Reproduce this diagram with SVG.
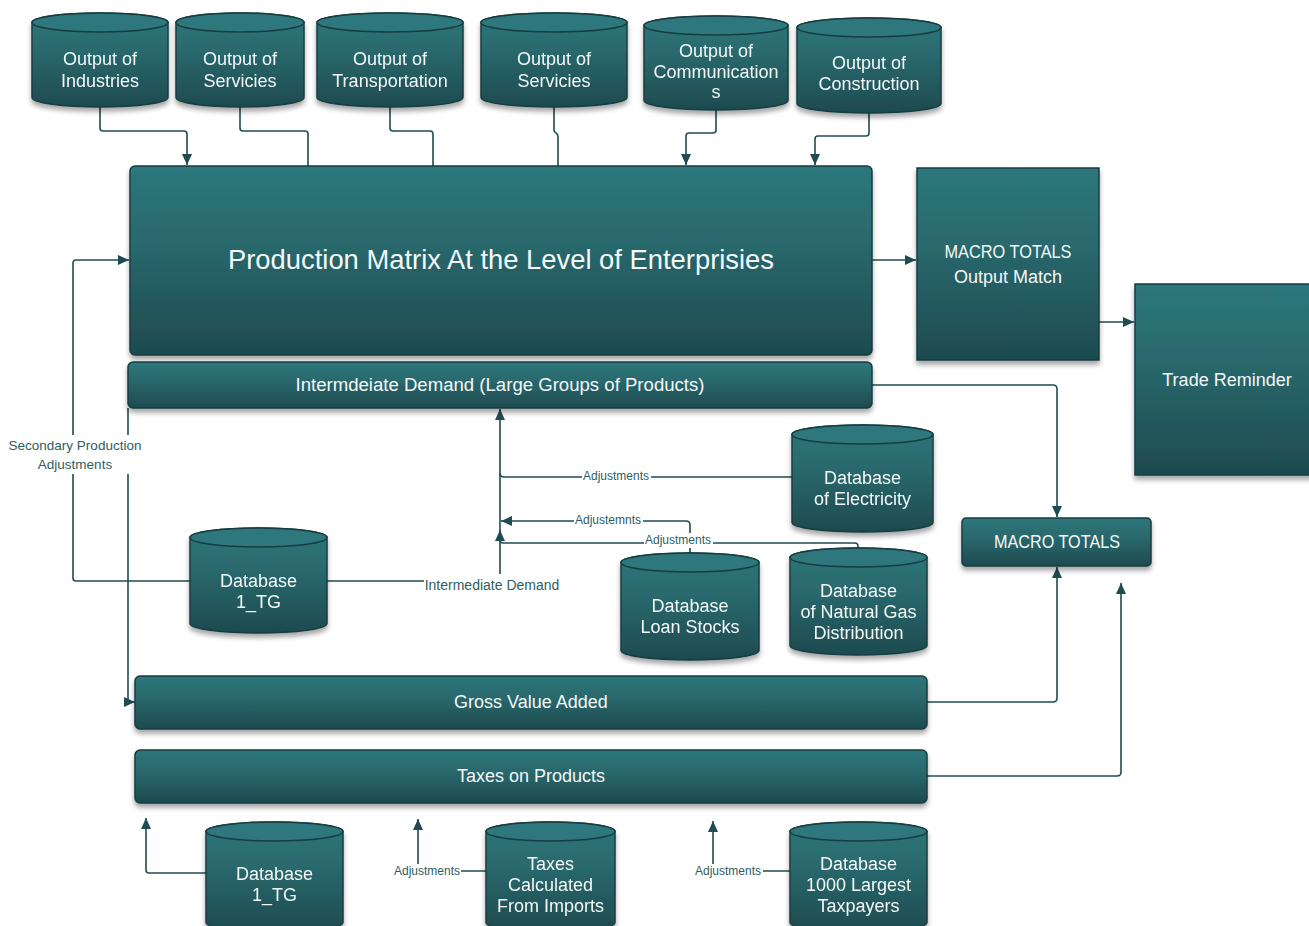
<svg xmlns="http://www.w3.org/2000/svg" width="1309" height="926" viewBox="0 0 1309 926">
  <defs>
    <linearGradient id="teal" x1="0" y1="0" x2="0" y2="1">
      <stop offset="0" stop-color="#2D777B"/>
      <stop offset="0.4" stop-color="#29696D"/>
      <stop offset="1" stop-color="#1E4A4F"/>
    </linearGradient>
    <filter id="shadow" x="-10%" y="-10%" width="120%" height="130%">
      <feDropShadow dx="0" dy="4" stdDeviation="2.5" flood-color="#000" flood-opacity="0.35"/>
    </filter>
    <marker id="arr" viewBox="0 0 11 10" refX="11" refY="5" markerWidth="11" markerHeight="10" markerUnits="userSpaceOnUse" orient="auto">
      <path d="M0,0 L11,5 L0,10 Z" fill="#1F4C50"/>
    </marker>
    <style>
      .box { fill: url(#teal); stroke: #183C40; stroke-width: 1.5; filter: url(#shadow); }
      .cyl { fill: url(#teal); stroke: #183C40; stroke-width: 1.5; }
      .cap { fill: #2D777B; stroke: #183C40; stroke-width: 1.5; }
      .t { font-family: "Liberation Sans", Arial, sans-serif; font-size: 18px; fill: #F4F8F8; text-anchor: middle; }
      .title { font-size: 28px; }
      .ln { fill: none; stroke: #1F4C50; stroke-width: 1.6; }
      .ar { marker-end: url(#arr); }
      .lbl { font-family: "Liberation Sans", Arial, sans-serif; font-size: 12px; fill: #2F5D61; text-anchor: middle; }
      .lbl13 { font-size: 13.5px; }
      .lbl14 { font-size: 14px; }
      .bg { fill: #FFFFFF; }
    </style>
  </defs>

  <rect width="1309" height="926" fill="#FFFFFF"/>

  <!-- connectors -->
  <g id="connectors">
    <!-- sector outputs into the production matrix -->
    <path class="ln ar" d="M100,107 V128 Q100,131 103,131 H184 Q187,131 187,134 V165"/>
    <path class="ln" d="M240,107 V128 Q240,131 243,131 H305 Q308,131 308,134 V166"/>
    <path class="ln" d="M390,107 V128 Q390,131 393,131 H430 Q433,131 433,134 V166"/>
    <path class="ln" d="M554,107 V130 Q554,132 556,133 Q558,134 558,137 V166"/>
    <path class="ln ar" d="M716,110 V130 Q716,133 713,133 H689 Q686,133 686,136 V165"/>
    <path class="ln ar" d="M869,113 V133 Q869,136 866,136 H818 Q815,136 815,139 V165"/>

    <!-- matrix to macro totals, macro totals to trade -->
    <path class="ln ar" d="M872,260 H916"/>
    <path class="ln ar" d="M1099,322 H1134"/>

    <!-- intermediate demand to macro totals -->
    <path class="ln ar" d="M872,385 H1053 Q1057,385 1057,389 V517"/>
    <!-- gross value added to macro totals -->
    <path class="ln ar" d="M927,702 H1053 Q1057,702 1057,698 V567"/>
    <!-- taxes on products upward -->
    <path class="ln ar" d="M927,776 H1117 Q1121,776 1121,772 V583"/>

    <!-- secondary production adjustments -->
    <path class="ln ar" d="M190,581 H76 Q73,581 73,578 V263 Q73,260 76,260 H129"/>
    <!-- intermediate bar down to gross value added -->
    <path class="ln ar" d="M128,408 V702 H135"/>

    <!-- intermediate demand from database 1_TG -->
    <path class="ln ar" d="M327,581 H497 Q500,581 500,578 V409"/>
    <!-- electricity adjustments -->
    <path class="ln" d="M792,477 H504 Q500,477 500,473"/>
    <!-- loan stock adjustments -->
    <path class="ln ar" d="M690,553 V525 Q690,521 686,521 H501"/>
    <!-- natural gas adjustments -->
    <path class="ln ar" d="M858,548 V546 Q858,543 855,543 H503 Q500,543 500,540 V530"/>

    <!-- bottom row feeds into taxes on products -->
    <path class="ln ar" d="M206,873 H149 Q146,873 146,870 V818"/>
    <path class="ln ar" d="M486,871 H418 V819"/>
    <path class="ln ar" d="M790,871 H713 V821"/>

    <!-- label backgrounds -->
    <rect class="bg" x="7" y="435" width="136" height="39"/>
    <rect class="bg" x="424" y="574" width="137" height="20"/>
    <rect class="bg" x="582" y="469" width="69" height="15"/>
    <rect class="bg" x="574" y="513" width="69" height="15"/>
    <rect class="bg" x="644" y="533" width="69" height="15"/>
    <rect class="bg" x="393" y="864" width="68" height="15"/>
    <rect class="bg" x="694" y="864" width="69" height="15"/>

    <!-- labels -->
    <text class="lbl lbl13" x="75" y="450">Secondary Production</text>
    <text class="lbl lbl13" x="75" y="469">Adjustments</text>
    <text class="lbl lbl14" x="492" y="590">Intermediate Demand</text>
    <text class="lbl" x="616" y="480">Adjustments</text>
    <text class="lbl" x="608" y="524">Adjustemnts</text>
    <text class="lbl" x="678" y="544">Adjustments</text>
    <text class="lbl" x="427" y="875">Adjustments</text>
    <text class="lbl" x="728" y="875">Adjustments</text>
  </g>

  <!-- sector output stores -->
  <g id="out-industries" filter="url(#shadow)">
    <path class="cyl" d="M32,22.5 A68,9.5 0 0 1 168,22.5 V97.5 A68,9.5 0 0 1 32,97.5 Z"/>
    <ellipse class="cap" cx="100" cy="22.5" rx="68" ry="9.5"/>
    <text class="t" x="100" y="65">Output of</text>
    <text class="t" x="100" y="87">Industries</text>
  </g>
  <g id="out-services-1" filter="url(#shadow)">
    <path class="cyl" d="M176,22.5 A64,9.5 0 0 1 304,22.5 V97.5 A64,9.5 0 0 1 176,97.5 Z"/>
    <ellipse class="cap" cx="240" cy="22.5" rx="64" ry="9.5"/>
    <text class="t" x="240" y="65">Output of</text>
    <text class="t" x="240" y="87">Servicies</text>
  </g>
  <g id="out-transportation" filter="url(#shadow)">
    <path class="cyl" d="M317,22.5 A73,9.5 0 0 1 463,22.5 V97.5 A73,9.5 0 0 1 317,97.5 Z"/>
    <ellipse class="cap" cx="390" cy="22.5" rx="73" ry="9.5"/>
    <text class="t" x="390" y="65">Output of</text>
    <text class="t" x="390" y="87">Transportation</text>
  </g>
  <g id="out-services-2" filter="url(#shadow)">
    <path class="cyl" d="M481,22.5 A73,9.5 0 0 1 627,22.5 V97.5 A73,9.5 0 0 1 481,97.5 Z"/>
    <ellipse class="cap" cx="554" cy="22.5" rx="73" ry="9.5"/>
    <text class="t" x="554" y="65">Output of</text>
    <text class="t" x="554" y="87">Servicies</text>
  </g>
  <g id="out-communications" filter="url(#shadow)">
    <path class="cyl" d="M644,25.5 A72,9.5 0 0 1 788,25.5 V100.5 A72,9.5 0 0 1 644,100.5 Z"/>
    <ellipse class="cap" cx="716" cy="25.5" rx="72" ry="9.5"/>
    <text class="t" x="716" y="57">Output of</text>
    <text class="t" x="716" y="78">Communication</text>
    <text class="t" x="716" y="98">s</text>
  </g>
  <g id="out-construction" filter="url(#shadow)">
    <path class="cyl" d="M797,27.5 A72,9.5 0 0 1 941,27.5 V103.5 A72,9.5 0 0 1 797,103.5 Z"/>
    <ellipse class="cap" cx="869" cy="27.5" rx="72" ry="9.5"/>
    <text class="t" x="869" y="69">Output of</text>
    <text class="t" x="869" y="90">Construction</text>
  </g>

  <!-- core tables -->
  <g id="production-matrix">
    <rect class="box" x="130" y="166" width="742" height="189" rx="5"/>
    <text class="t title" x="501" y="269" textLength="546" lengthAdjust="spacingAndGlyphs">Production Matrix At the Level of Enterprisies</text>
  </g>
  <g id="intermediate-demand">
    <rect class="box" x="128" y="362" width="744" height="46" rx="5"/>
    <text class="t" x="500" y="391" textLength="409" lengthAdjust="spacingAndGlyphs">Intermdeiate Demand (Large Groups of Products)</text>
  </g>
  <g id="macro-output-match">
    <rect class="box" x="917" y="168" width="182" height="192"/>
    <text class="t" x="1008" y="258" textLength="127" lengthAdjust="spacingAndGlyphs">MACRO TOTALS</text>
    <text class="t" x="1008" y="283">Output Match</text>
  </g>
  <g id="trade-reminder">
    <rect class="box" x="1135" y="284" width="186" height="191"/>
    <text class="t" x="1227" y="386">Trade Reminder</text>
  </g>
  <g id="macro-totals">
    <rect class="box" x="962" y="518" width="189" height="48" rx="4"/>
    <text class="t" x="1057" y="548" textLength="126" lengthAdjust="spacingAndGlyphs">MACRO TOTALS</text>
  </g>
  <g id="gross-value-added">
    <rect class="box" x="135" y="676" width="792" height="53" rx="5"/>
    <text class="t" x="531" y="708">Gross Value Added</text>
  </g>
  <g id="taxes-on-products">
    <rect class="box" x="135" y="750" width="792" height="53" rx="5"/>
    <text class="t" x="531" y="782">Taxes on Products</text>
  </g>

  <!-- source databases -->
  <g id="db-1tg" filter="url(#shadow)">
    <path class="cyl" d="M190,537.5 A68.5,9.5 0 0 1 327,537.5 V623.5 A68.5,9.5 0 0 1 190,623.5 Z"/>
    <ellipse class="cap" cx="258.5" cy="537.5" rx="68.5" ry="9.5"/>
    <text class="t" x="258.5" y="587">Database</text>
    <text class="t" x="258.5" y="608">1_TG</text>
  </g>
  <g id="db-electricity" filter="url(#shadow)">
    <path class="cyl" d="M792,434.5 A70.5,9.5 0 0 1 933,434.5 V522.5 A70.5,9.5 0 0 1 792,522.5 Z"/>
    <ellipse class="cap" cx="862.5" cy="434.5" rx="70.5" ry="9.5"/>
    <text class="t" x="862.5" y="484">Database</text>
    <text class="t" x="862.5" y="505">of Electricity</text>
  </g>
  <g id="db-loan-stocks" filter="url(#shadow)">
    <path class="cyl" d="M621,562.5 A69,9.5 0 0 1 759,562.5 V650.5 A69,9.5 0 0 1 621,650.5 Z"/>
    <ellipse class="cap" cx="690" cy="562.5" rx="69" ry="9.5"/>
    <text class="t" x="690" y="612">Database</text>
    <text class="t" x="690" y="633">Loan Stocks</text>
  </g>
  <g id="db-natural-gas" filter="url(#shadow)">
    <path class="cyl" d="M790,557.5 A68.5,9.5 0 0 1 927,557.5 V645.5 A68.5,9.5 0 0 1 790,645.5 Z"/>
    <ellipse class="cap" cx="858.5" cy="557.5" rx="68.5" ry="9.5"/>
    <text class="t" x="858.5" y="597">Database</text>
    <text class="t" x="858.5" y="618">of Natural Gas</text>
    <text class="t" x="858.5" y="639">Distribution</text>
  </g>
  <g id="db-1tg-taxes" filter="url(#shadow)">
    <path class="cyl" d="M206,831.5 A68.5,9.5 0 0 1 343,831.5 V922.5 A68.5,9.5 0 0 1 206,922.5 Z"/>
    <ellipse class="cap" cx="274.5" cy="831.5" rx="68.5" ry="9.5"/>
    <text class="t" x="274.5" y="880">Database</text>
    <text class="t" x="274.5" y="901">1_TG</text>
  </g>
  <g id="db-import-taxes" filter="url(#shadow)">
    <path class="cyl" d="M486,831.5 A64.5,9.5 0 0 1 615,831.5 V922.5 A64.5,9.5 0 0 1 486,922.5 Z"/>
    <ellipse class="cap" cx="550.5" cy="831.5" rx="64.5" ry="9.5"/>
    <text class="t" x="550.5" y="870">Taxes</text>
    <text class="t" x="550.5" y="891">Calculated</text>
    <text class="t" x="550.5" y="912">From Imports</text>
  </g>
  <g id="db-largest-taxpayers" filter="url(#shadow)">
    <path class="cyl" d="M790,831.5 A68.5,9.5 0 0 1 927,831.5 V922.5 A68.5,9.5 0 0 1 790,922.5 Z"/>
    <ellipse class="cap" cx="858.5" cy="831.5" rx="68.5" ry="9.5"/>
    <text class="t" x="858.5" y="870">Database</text>
    <text class="t" x="858.5" y="891">1000 Largest</text>
    <text class="t" x="858.5" y="912">Taxpayers</text>
  </g>
</svg>
